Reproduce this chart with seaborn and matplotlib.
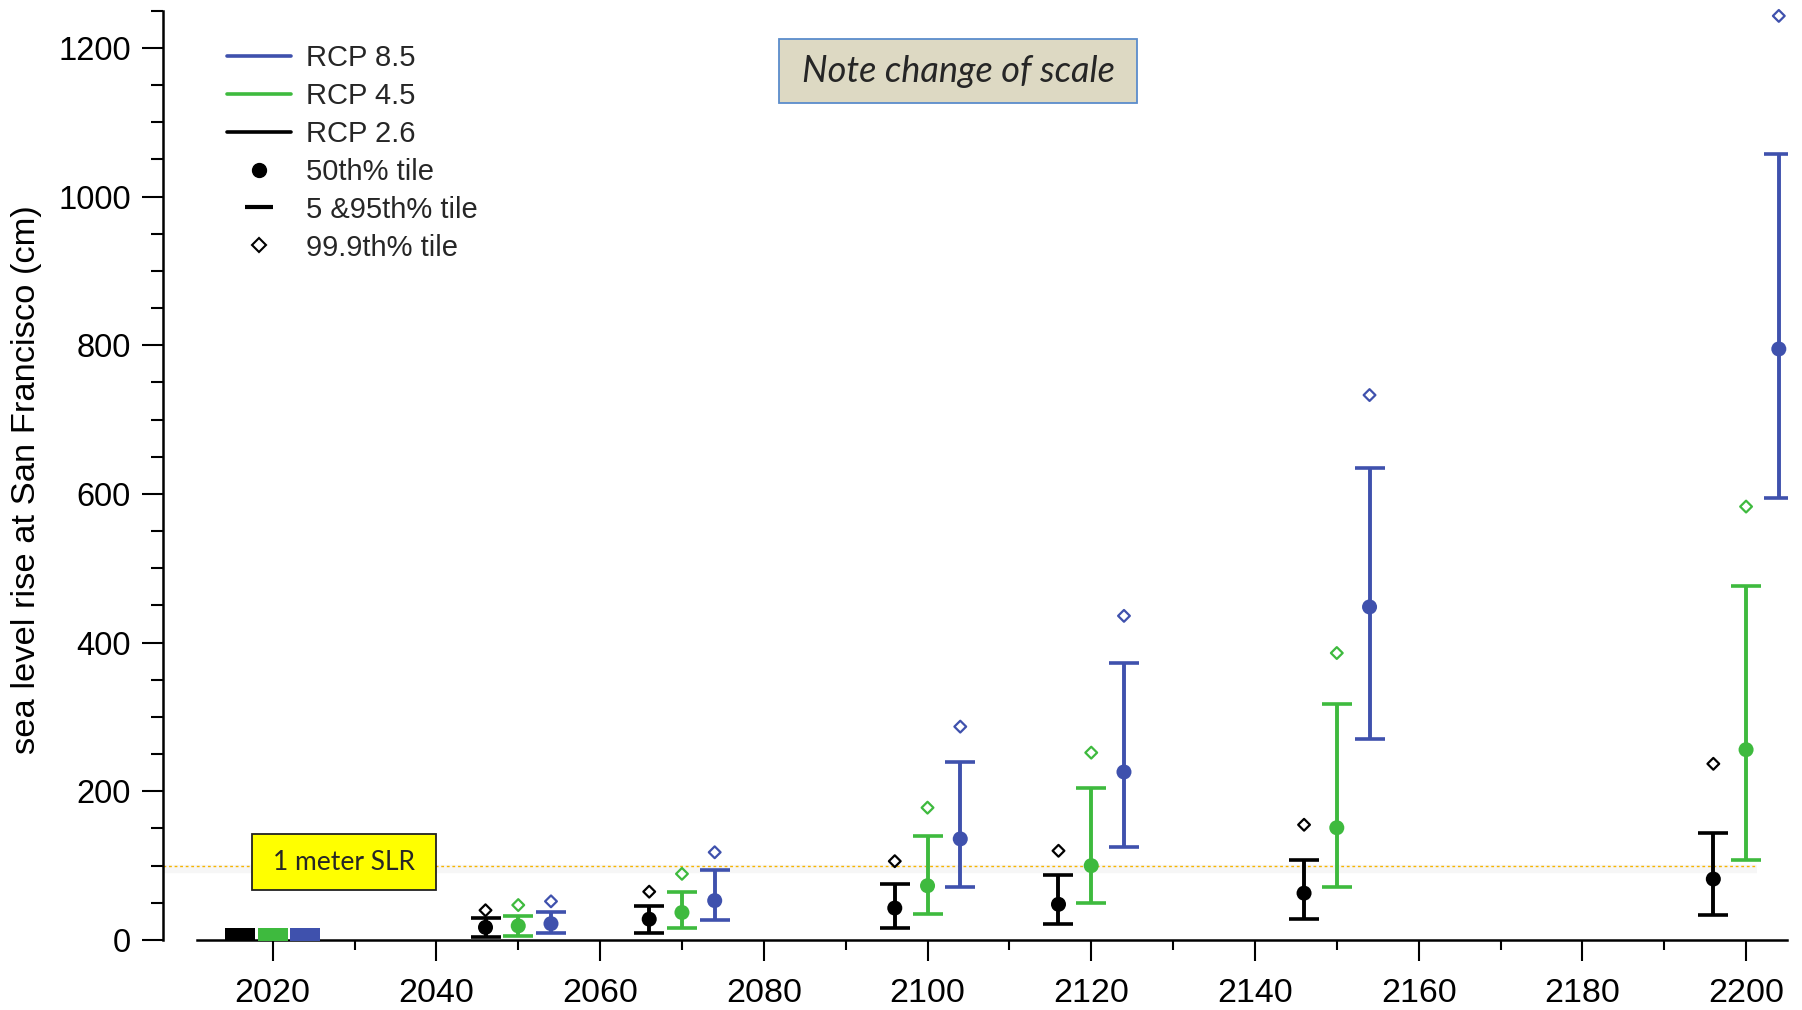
import numpy as np
import pandas as pd
import matplotlib
matplotlib.use("Agg")
import matplotlib.pyplot as plt
from matplotlib.lines import Line2D
from matplotlib.patches import Rectangle
from matplotlib.ticker import MultipleLocator
import seaborn as sns

nan = np.nan

# Projection years
years = [2020, 2050, 2070, 2100, 2120, 2150, 2200]

# RCP 2.6 percentiles (cm)
rcp26_p05 = [3.5, 4.5, 10, 16, 22, 28, 34]
rcp26_p50 = [7.4, 17, 28, 43, 48, 63, 82]
rcp26_p95 = [10.5, 29, 46, 75, 87, 108, 144]
rcp26_p999 = [nan, 40, 65, 106, 120, 155, 237]

# RCP 4.5 percentiles (cm)
rcp45_p05 = [3.5, 6, 16, 34.5, 50, 71, 108]
rcp45_p50 = [7.4, 19, 37, 73, 100, 151, 256]
rcp45_p95 = [10.5, 32, 65, 140, 204, 318, 476]
rcp45_p999 = [nan, 47, 89, 178, 252, 386, 583]

# RCP 8.5 percentiles (cm)
rcp85_p05 = [3, 9, 27, 71, 125, 270, 594]
rcp85_p50 = [6.8, 22, 53, 136, 226, 448, 795]
rcp85_p95 = [10, 37, 94, 239, 372, 635, 1057]
rcp85_p999 = [nan, 52, 118, 287, 436, 733, 1243]

scenarios = ["RCP 2.6", "RCP 4.5", "RCP 8.5"]
slr_threshold_cm = 100

colors = {"RCP 2.6": "#000000", "RCP 4.5": "#3EBA3E", "RCP 8.5": "#3F51AD"}
offsets = {"RCP 2.6": -4, "RCP 4.5": 0, "RCP 8.5": 4}

series = {
    "RCP 2.6": (rcp26_p05, rcp26_p50, rcp26_p95, rcp26_p999),
    "RCP 4.5": (rcp45_p05, rcp45_p50, rcp45_p95, rcp45_p999),
    "RCP 8.5": (rcp85_p05, rcp85_p50, rcp85_p95, rcp85_p999),
}

frames = []
for name in scenarios:
    p05, p50, p95, p999 = series[name]
    frames.append(pd.DataFrame({
        "scenario": name,
        "year": years,
        "p05": p05, "p50": p50, "p95": p95, "p999": p999,
    }))
df = pd.concat(frames, ignore_index=True)
df["xpos"] = df["year"] + df["scenario"].map(offsets)
baseline = df[df["year"] == years[0]]
future = df[df["year"] != years[0]]

sns.set_theme(style="ticks")
plt.rcParams["font.family"] = ["Liberation Sans", "DejaVu Sans"]

W, H = 1802, 1010
fig = plt.figure(figsize=(W / 100, H / 100), dpi=100)
ax = fig.add_axes([163 / W, 1 - 940 / H, (1787 - 163) / W, (940 - 10.7) / H])

# 1 m threshold line with a soft shadow beneath
ax.hlines(slr_threshold_cm - 4, 2006.6, 2201.3, color="#000000", alpha=0.035, lw=6, zorder=1)
ax.hlines(slr_threshold_cm, 2006.6, 2201.3, color="#F7B500", lw=1.0,
          linestyles=(0, (2, 2)), zorder=2)

# 5th-95th percentile ranges
for name in scenarios:
    d = df[df["scenario"] == name]
    mid = (d["p05"] + d["p95"]) / 2
    ax.errorbar(d["xpos"], mid, yerr=[mid - d["p05"], d["p95"] - mid], fmt="none",
                ecolor=colors[name], elinewidth=2.8, capsize=10.8, capthick=2.6,
                zorder=3)

# Medians: projections as dots, present-day level as a flat block
sns.scatterplot(data=future, x="xpos", y="p50", hue="scenario", palette=colors,
                s=117, linewidth=0, legend=False, ax=ax, zorder=4, clip_on=False)
block = [(-1, -0.43), (1, -0.43), (1, 0.43), (-1, 0.43), (-1, -0.43)]
sns.scatterplot(data=baseline, x="xpos", y="p50", hue="scenario", palette=colors,
                marker=block, s=467, linewidth=0, legend=False, ax=ax, zorder=4,
                clip_on=False)

# 99.9th percentile
for name in scenarios:
    d = df[df["scenario"] == name]
    sns.scatterplot(x=d["xpos"], y=d["p999"], marker="D", s=36,
                    facecolor="none", edgecolor=colors[name], linewidth=1.6,
                    ax=ax, zorder=4, clip_on=False)

ax.set_xlim(2006.6, 2205)
ax.set_ylim(0, 1250)
ax.set_xlabel("")
ax.set_ylabel("")

ax.set_xticks(np.arange(2020, 2201, 20))
ax.set_xticks(np.arange(2030, 2200, 20), minor=True)
ax.yaxis.set_major_locator(MultipleLocator(200))
ax.yaxis.set_minor_locator(MultipleLocator(50))

for s in ("top", "right"):
    ax.spines[s].set_visible(False)
for s in ("left", "bottom"):
    ax.spines[s].set_linewidth(1.8)
    ax.spines[s].set_color("black")
ax.spines["bottom"].set_bounds(2010.8, 2205)

ax.tick_params(axis="y", which="major", length=15, width=1.5, color="black",
               labelsize=23.5, labelcolor="black", pad=8)
ax.tick_params(axis="x", which="major", length=15, width=1.5, color="black",
               labelsize=24.5, labelcolor="black", pad=12)
ax.tick_params(axis="y", which="minor", length=8.6, width=1.5, color="black")
ax.tick_params(axis="x", which="minor", length=7.5, width=1.5, color="black")

fig.text(27 / W, 1 - 480 / H, "sea level rise at San Francisco (cm)", rotation=90,
         ha="center", va="center", fontsize=24.8, color="black")

# Legend
handles = [
    Line2D([], [], color=colors["RCP 8.5"], lw=2.6),
    Line2D([], [], color=colors["RCP 4.5"], lw=2.6),
    Line2D([], [], color=colors["RCP 2.6"], lw=2.6),
    Line2D([], [], ls="none", marker="o", color="black", ms=10),
    Line2D([], [], ls="none", marker="_", color="black", ms=20, mew=3),
    Line2D([], [], ls="none", marker="D", mfc="none", mec="black", ms=7, mew=1.5),
]
labels = ["RCP 8.5", "RCP 4.5", "RCP 2.6", "50th% tile", "5 &95th% tile", "99.9th% tile"]
fig.legend(handles, labels, loc="upper left", bbox_to_anchor=(227 / W, 1 - 44 / H),
           frameon=False, fontsize=21, handlelength=2.2, handletextpad=0.5,
           labelspacing=0.34, borderpad=0, borderaxespad=0)

# Note box
fig.patches.append(Rectangle((779 / W, 1 - 103 / H), (1137 - 779) / W, 64 / H,
                             transform=fig.transFigure, facecolor="#DDD9C3",
                             edgecolor="#5B8CCB", lw=1.3, zorder=5))
fig.text(958 / W, 1 - 72 / H, "Note change of scale", ha="center", va="center",
         fontsize=26, style="italic", family=["Lato", "DejaVu Sans"], zorder=6)

# 1 meter SLR label
fig.patches.append(Rectangle((252 / W, 1 - 890 / H), (436 - 252) / W, 56 / H,
                             transform=fig.transFigure, facecolor="#FFFF00",
                             edgecolor="#222222", lw=1.3, zorder=5))
fig.text(344 / W, 1 - 862 / H, "1 meter SLR", ha="center", va="center",
         fontsize=19, family=["Lato", "DejaVu Sans"], zorder=6)

fig.savefig("out.png", dpi=100)
